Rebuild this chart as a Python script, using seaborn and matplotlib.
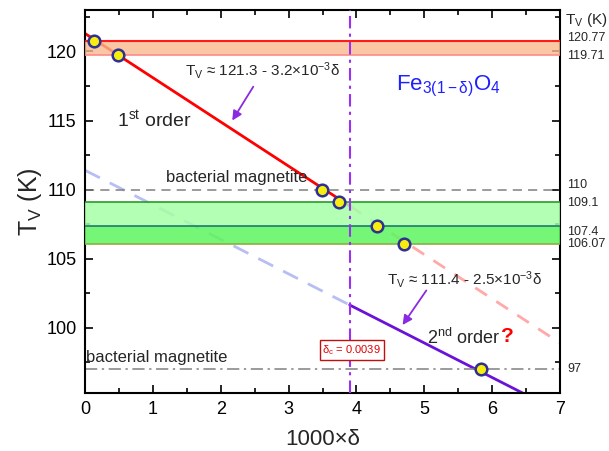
import matplotlib
matplotlib.use("Agg")
import matplotlib.pyplot as plt
import matplotlib.transforms as mtransforms
import seaborn as sns
import numpy as np
import pandas as pd

# ---- data ----
pts_x = [0.13, 0.48, 3.49, 3.75, 4.31, 4.70, 5.84]
pts_y = [120.77, 119.71, 110.0, 109.1, 107.4, 106.07, 97.0]

fit1_intercept, fit1_slope = 121.3, -3.2
fit2_intercept, fit2_slope = 111.4, -2.5
delta_c = 3.9
x_min, x_max = 0.0, 7.0
fit2_end = 6.6

band_orange = [119.71, 120.77]
band_green_hi = [107.4, 109.1]
band_green_lo = [106.07, 107.4]
bacterial_levels = [110.0, 97.0]

right_tick_labels = ["120.77", "119.71", "110", "109.1", "107.4", "106.07", "97"]
right_label_pos = [120.95, 119.7, 110.3, 109.05, 106.9, 106.05, 97.0]

xticks = [0, 1, 2, 3, 4, 5, 6, 7]
yticks = [100, 105, 110, 115, 120]

# ---- style ----
sns.set_theme(style="ticks")
plt.rcParams["font.family"] = ["Liberation Sans", "DejaVu Sans"]
plt.rcParams["mathtext.fontset"] = "custom"
plt.rcParams["mathtext.rm"] = "Liberation Sans"
plt.rcParams["mathtext.it"] = "Liberation Sans:italic"
plt.rcParams["mathtext.bf"] = "Liberation Sans:bold"

fig = plt.figure(figsize=(6.09, 4.51), dpi=100)
ax = fig.add_axes([85/609, (451-392.7)/451, (560-85)/609, (392.7-10)/451])

ax.set_xlim(x_min, x_max)
ax.set_ylim(95.3, 123.0)

def fit(a, b, xs):
    return [a + b * x for x in xs]

# fit lines
l1 = pd.DataFrame({"x": [x_min, delta_c], "y": fit(fit1_intercept, fit1_slope, [x_min, delta_c])})
l1d = pd.DataFrame({"x": [delta_c, x_max], "y": fit(fit1_intercept, fit1_slope, [delta_c, x_max])})
l2d = pd.DataFrame({"x": [x_min, delta_c], "y": fit(fit2_intercept, fit2_slope, [x_min, delta_c])})
l2 = pd.DataFrame({"x": [delta_c, fit2_end], "y": fit(fit2_intercept, fit2_slope, [delta_c, fit2_end])})

sns.lineplot(data=l1, x="x", y="y", ax=ax, color="#ff0000", lw=2, zorder=2)
sns.lineplot(data=l1d, x="x", y="y", ax=ax, color="#ff9a9a", lw=2, zorder=2,
             linestyle=(0, (5, 4)), alpha=0.85)
sns.lineplot(data=l2d, x="x", y="y", ax=ax, color="#b8bef4", lw=2, zorder=2,
             linestyle=(0, (6, 4)))
sns.lineplot(data=l2, x="x", y="y", ax=ax, color="#6a12d8", lw=2, zorder=2)

# bands
ax.axhspan(band_orange[0], band_orange[1], color="#f8b98c", alpha=0.8, lw=0, zorder=3)
ax.axhline(band_orange[1], color="#ff1a1a", lw=1.5, zorder=3)
ax.axhline(band_orange[0], color="#ff8a8a", lw=1.2, zorder=3)
ax.axhspan(band_green_hi[0], band_green_hi[1], color="#a6ffa6", alpha=0.85, lw=0, zorder=3)
ax.axhspan(band_green_lo[0], band_green_lo[1], color="#5ef55e", alpha=0.85, lw=0, zorder=3)
ax.axhline(band_green_hi[1], color="#2a9a2a", lw=1.2, zorder=3)
ax.axhline(band_green_hi[0], color="#1f7a6e", lw=1.2, zorder=3)
ax.axhline(band_green_lo[0], color="#8ab040", lw=1.2, zorder=3)

# reference lines
ax.axhline(bacterial_levels[0], color="#808080", lw=1.1, linestyle=(0, (6, 4)), zorder=2.5)
ax.axhline(bacterial_levels[1], color="#808080", lw=1.1, linestyle=(0, (8, 3, 1.5, 3)), zorder=2.5)
ax.axvline(delta_c, color="#9b30f0", lw=1.5, linestyle=(0, (6, 2.5, 1.5, 2.5)), zorder=4)

# points
sns.scatterplot(x=pts_x, y=pts_y, ax=ax, s=70, color="#f7ee10", edgecolor="#2e3192",
                linewidth=1.8, zorder=5, legend=False)

# texts
ax.text(2.24, 110.3, "bacterial magnetite", fontsize=12, ha="center", va="bottom", zorder=6)
ax.text(1.05, 97.3, "bacterial magnetite", fontsize=12, ha="center", va="bottom", zorder=6)
ax.text(1.02, 115.05, r"1$^{\mathregular{st}}$ order", fontsize=14, ha="center", va="center", zorder=6)
ax.text(2.62, 118.6, r"T$_{\mathregular{V}}$ ≈ 121.3 - 3.2×10$^{\mathregular{-3}}$δ",
        fontsize=11, ha="center", va="center", zorder=6)
ax.text(5.6, 103.5, r"T$_{\mathregular{V}}$ ≈ 111.4 - 2.5×10$^{\mathregular{-3}}$δ",
        fontsize=11, ha="center", va="center", zorder=6)
ax.text(6.12, 99.25, r"2$^{\mathregular{nd}}$ order", fontsize=13, ha="right", va="center", zorder=6)
ax.text(6.13, 99.35, "?", fontsize=15, ha="left", va="center", color="#ff0000",
        fontweight="bold", zorder=6)
ax.text(5.36, 117.5, r"Fe$_{\mathregular{3(1-δ)}}$O$_{\mathregular{4}}$", fontsize=16,
        ha="center", va="center", color="#1f1fff", zorder=6)
ax.text(3.93, 98.4, r"δ$_{\mathregular{c}}$ = 0.0039", fontsize=8, ha="center", va="center",
        color="#e00000", zorder=6,
        bbox=dict(boxstyle="square,pad=0.25", fc="white", ec="#c01010", lw=1))

arrow_kw = dict(arrowstyle="-|>", color="#8a2be2", lw=1.3, mutation_scale=14, shrinkA=0, shrinkB=0)
ax.annotate("", xy=(2.17, 115.0), xytext=(2.48, 117.45), arrowprops=arrow_kw, zorder=6)
ax.annotate("", xy=(4.68, 100.2), xytext=(5.03, 102.7), arrowprops=arrow_kw, zorder=6)

# right-side labels
trans = mtransforms.blended_transform_factory(ax.transAxes, ax.transData)
for ypos, lab in zip(right_label_pos, right_tick_labels):
    ax.text(1.015, ypos, lab, transform=trans, fontsize=9, ha="left", va="center")
ax.text(1.01, 122.3, r"T$_{\mathregular{V}}$ (K)", transform=trans, fontsize=11,
        ha="left", va="center")

# axes styling
ax.set_xticks(xticks)
ax.set_yticks(yticks)
ax.set_xticks(np.arange(0.5, 7, 1), minor=True)
ax.set_yticks([97.5, 102.5, 107.5, 112.5, 117.5, 122.5], minor=True)
ax.tick_params(which="both", direction="in", top=True, right=True, colors="black",
               labelsize=13, width=1.2, pad=6)
ax.tick_params(which="major", length=6)
ax.tick_params(which="minor", length=3.5)
for sp in ax.spines.values():
    sp.set_linewidth(1.5)
    sp.set_color("black")
ax.set_xlabel("1000×δ", fontsize=16, labelpad=8)
ax.set_ylabel(r"T$_{\mathregular{V}}$ (K)", fontsize=18, labelpad=2)

fig.savefig("out.png", dpi=100)
